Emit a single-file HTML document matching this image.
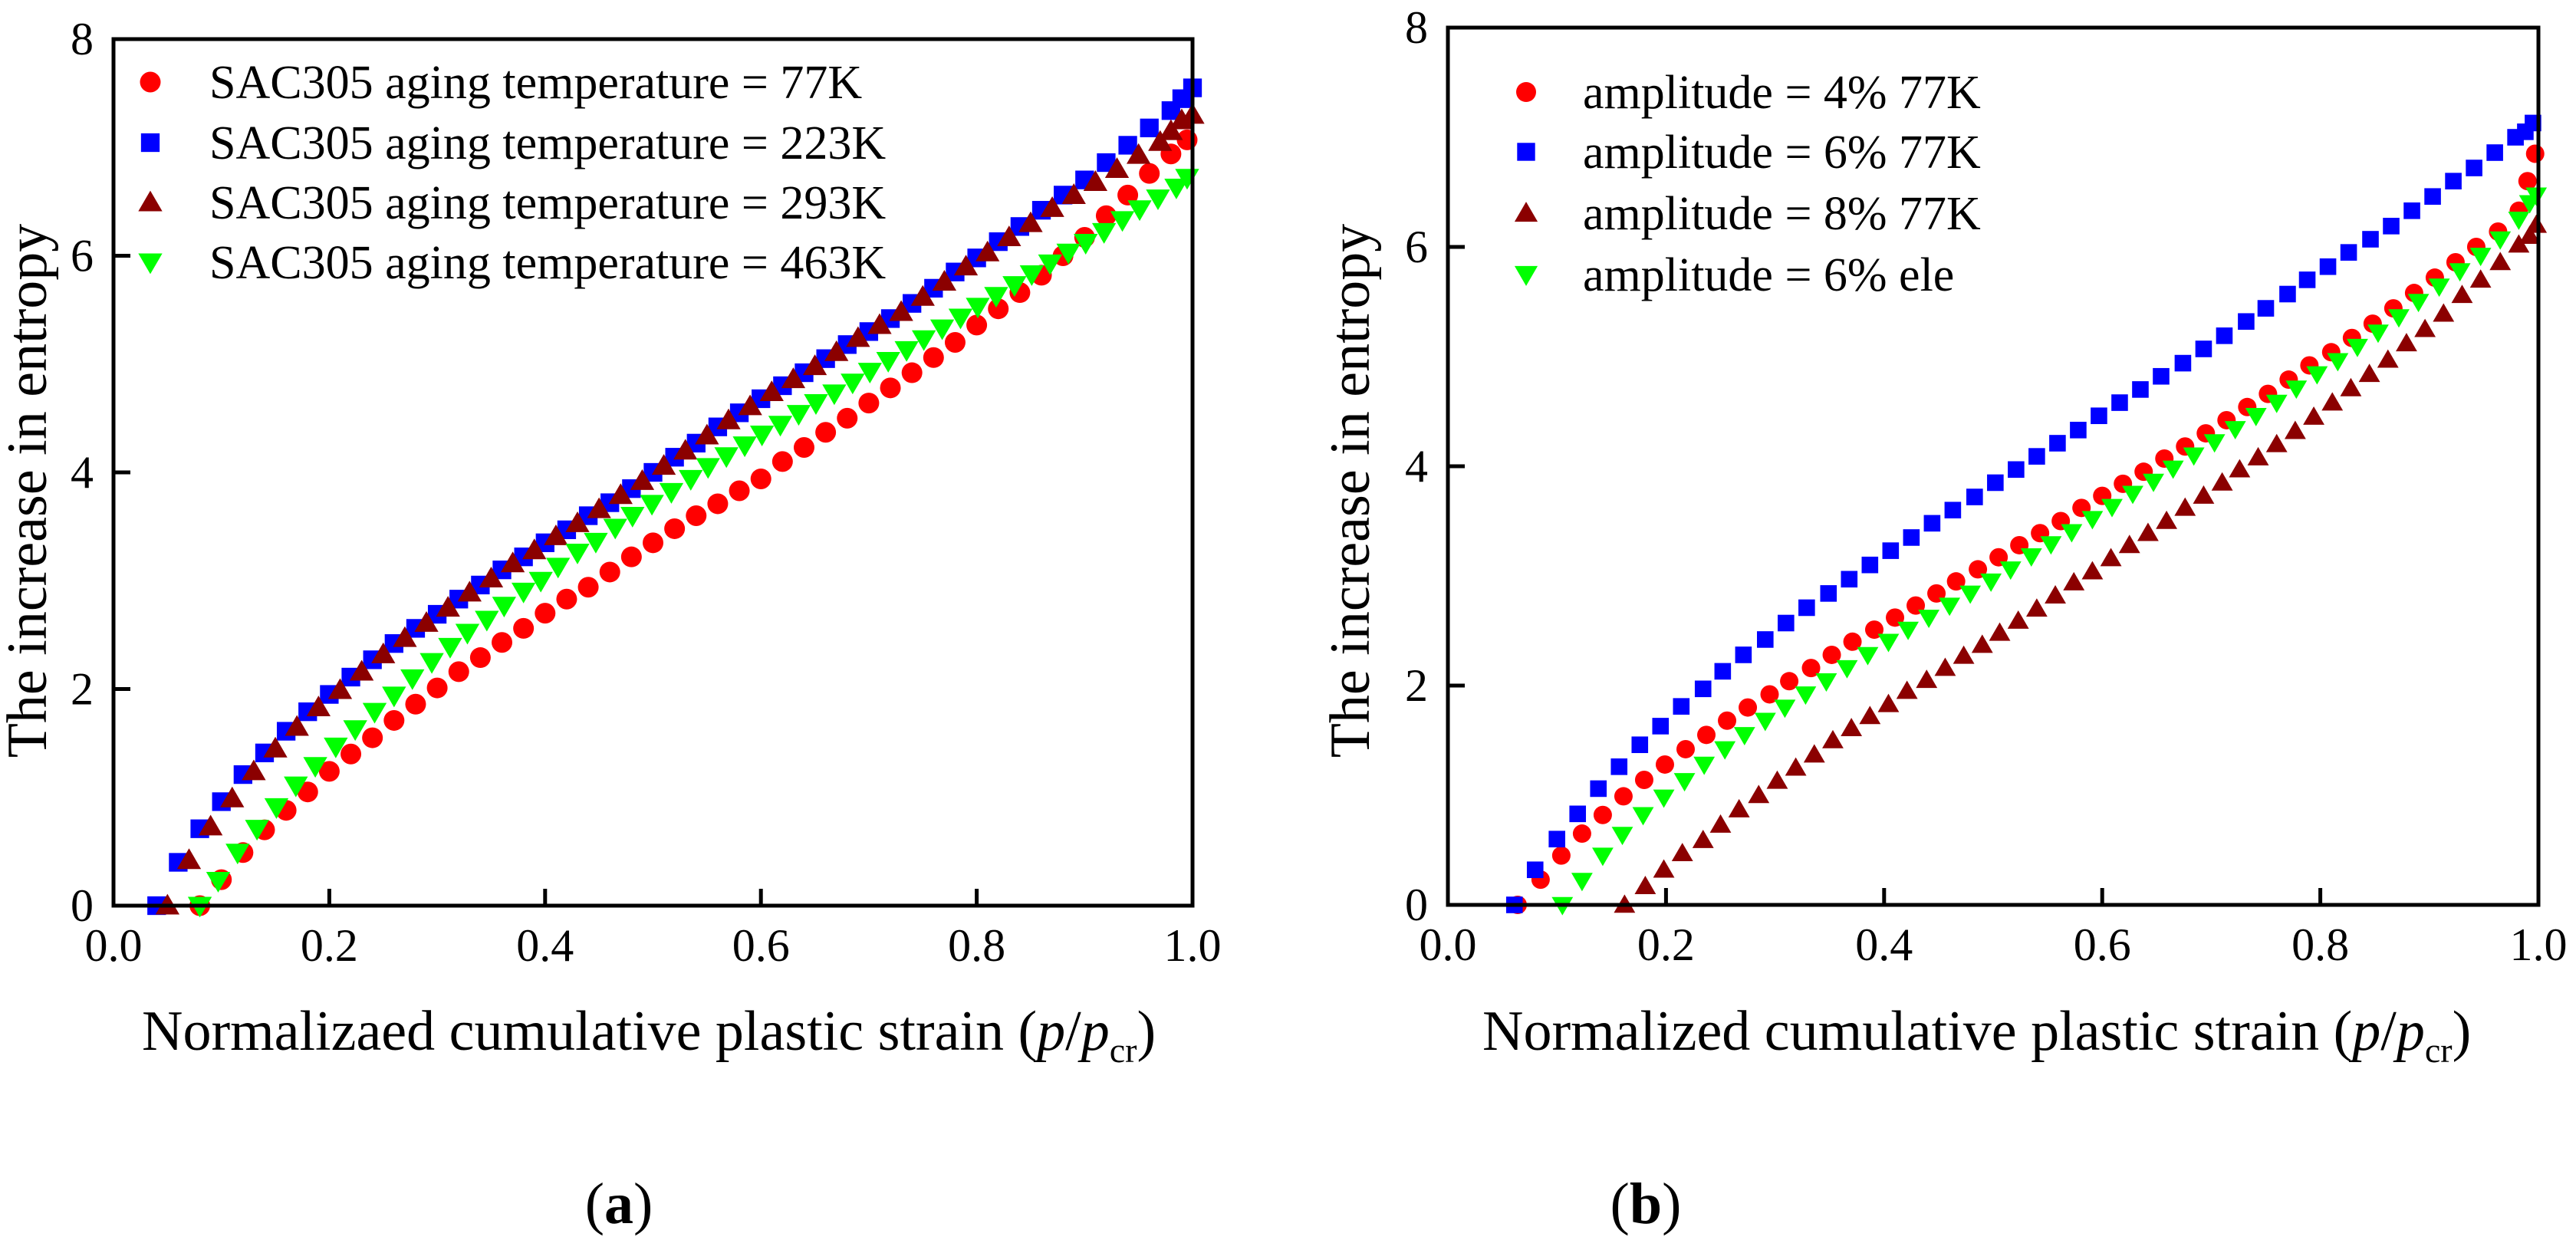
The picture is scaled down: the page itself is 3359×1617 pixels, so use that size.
<!DOCTYPE html>
<html><head><meta charset="utf-8"><style>
html,body{margin:0;padding:0;background:#fff;}
svg{display:block;font-family:"Liberation Serif",serif;}
svg text, svg tspan{font-family:"Liberation Serif",serif;}
</style></head><body>
<svg id="fig" width="3359" height="1617" viewBox="0 0 3359 1617" xmlns="http://www.w3.org/2000/svg" font-family="Liberation Serif, serif">
<rect width="3359" height="1617" fill="#fff"/>
</svg>
<script>
// ---------- Panel (a) data ----------
const aBlueX=[0.04,0.06,0.08,0.10,0.12,0.14,0.16,0.18,0.20,0.22,0.24,0.26,0.28,0.30,0.32,0.34,0.36,0.38,0.40,0.42,0.44,0.46,0.48,0.50,0.52,0.54,0.56,0.58,0.60,0.62,0.64,0.66,0.68,0.70,0.72,0.74,0.76,0.78,0.80,0.82,0.84,0.86,0.88,0.90,0.92,0.94,0.96,0.98,0.99,1.00];
const aBlueY=[0,0.4,0.71,0.96,1.21,1.41,1.61,1.79,1.95,2.11,2.27,2.42,2.56,2.69,2.83,2.96,3.1,3.22,3.35,3.47,3.6,3.72,3.85,4.0,4.14,4.27,4.42,4.55,4.68,4.8,4.92,5.05,5.18,5.3,5.42,5.56,5.7,5.85,5.98,6.13,6.27,6.42,6.56,6.7,6.86,7.02,7.18,7.34,7.45,7.55];
const aTriX=[0.05,0.07,0.09,0.11,0.13,0.15,0.17,0.19,0.21,0.23,0.25,0.27,0.29,0.31,0.33,0.35,0.37,0.39,0.41,0.43,0.45,0.47,0.49,0.51,0.53,0.55,0.57,0.59,0.61,0.63,0.65,0.67,0.69,0.71,0.73,0.75,0.77,0.79,0.81,0.83,0.85,0.87,0.89,0.91,0.93,0.95,0.97,0.98,0.99,1.0];
const aTriY=[0,0.42,0.73,0.99,1.24,1.45,1.65,1.83,1.99,2.16,2.32,2.47,2.61,2.75,2.89,3.02,3.16,3.28,3.41,3.53,3.66,3.79,3.92,4.06,4.2,4.34,4.48,4.61,4.74,4.86,4.98,5.11,5.24,5.36,5.48,5.62,5.76,5.9,6.03,6.17,6.3,6.44,6.56,6.68,6.8,6.93,7.05,7.15,7.25,7.3];
const aRedX=[0.08,0.10,0.12,0.14,0.16,0.18,0.20,0.22,0.24,0.26,0.28,0.30,0.32,0.34,0.36,0.38,0.40,0.42,0.44,0.46,0.48,0.50,0.52,0.54,0.56,0.58,0.60,0.62,0.64,0.66,0.68,0.70,0.72,0.74,0.76,0.78,0.80,0.82,0.84,0.86,0.88,0.90,0.92,0.94,0.96,0.98,0.995];
const aRedY=[0,0.24,0.49,0.7,0.88,1.05,1.24,1.4,1.55,1.71,1.86,2.01,2.16,2.29,2.43,2.56,2.7,2.83,2.94,3.08,3.22,3.35,3.48,3.6,3.71,3.83,3.94,4.1,4.23,4.37,4.5,4.64,4.78,4.92,5.06,5.2,5.36,5.51,5.66,5.82,6.0,6.17,6.37,6.56,6.76,6.94,7.07];
const aGreenX=[0.08,0.097,0.115,0.133,0.151,0.169,0.187,0.206,0.224,0.242,0.26,0.277,0.295,0.312,0.328,0.346,0.362,0.38,0.396,0.412,0.43,0.447,0.465,0.481,0.499,0.517,0.535,0.551,0.568,0.585,0.601,0.618,0.635,0.651,0.668,0.685,0.701,0.718,0.735,0.751,0.768,0.785,0.801,0.818,0.835,0.851,0.868,0.885,0.901,0.918,0.935,0.951,0.968,0.985,0.995];
const aGreenY=[0,0.23,0.49,0.71,0.91,1.11,1.29,1.47,1.63,1.79,1.94,2.1,2.25,2.39,2.52,2.64,2.77,2.9,3.0,3.13,3.26,3.36,3.49,3.6,3.71,3.82,3.94,4.05,4.15,4.25,4.35,4.44,4.54,4.64,4.73,4.83,4.93,5.03,5.13,5.23,5.33,5.43,5.53,5.63,5.73,5.83,5.93,6.03,6.12,6.22,6.33,6.43,6.53,6.63,6.72];
const aLegend=["SAC305 aging temperature = 77K","SAC305 aging temperature = 223K","SAC305 aging temperature = 293K","SAC305 aging temperature = 463K"];

// ---------- Panel (b) data ----------
const bBlueX=[0.061,0.08,0.1,0.119,0.138,0.157,0.176,0.195,0.214,0.234,0.252,0.271,0.291,0.31,0.329,0.349,0.368,0.387,0.406,0.425,0.444,0.463,0.483,0.502,0.521,0.54,0.559,0.578,0.597,0.616,0.635,0.654,0.674,0.693,0.712,0.732,0.75,0.77,0.788,0.807,0.826,0.846,0.865,0.884,0.903,0.922,0.941,0.96,0.979,0.988,0.995];
const bBlueY=[0,0.32,0.6,0.83,1.06,1.26,1.46,1.63,1.81,1.97,2.13,2.28,2.42,2.57,2.71,2.84,2.97,3.1,3.23,3.35,3.48,3.6,3.72,3.85,3.97,4.09,4.21,4.33,4.46,4.58,4.7,4.82,4.94,5.07,5.19,5.32,5.44,5.57,5.7,5.82,5.95,6.07,6.19,6.33,6.46,6.6,6.72,6.86,7.0,7.05,7.13];
const bRedX=[0.064,0.085,0.104,0.123,0.142,0.161,0.18,0.199,0.218,0.237,0.256,0.275,0.295,0.313,0.333,0.352,0.371,0.391,0.41,0.429,0.448,0.466,0.486,0.505,0.524,0.543,0.562,0.581,0.6,0.619,0.638,0.657,0.676,0.695,0.714,0.733,0.752,0.771,0.79,0.81,0.829,0.848,0.867,0.886,0.905,0.924,0.943,0.963,0.982,0.99,0.997];
const bRedY=[0,0.23,0.45,0.65,0.82,0.99,1.14,1.28,1.42,1.55,1.68,1.8,1.92,2.04,2.16,2.28,2.4,2.51,2.62,2.73,2.84,2.95,3.06,3.17,3.28,3.39,3.5,3.62,3.73,3.84,3.95,4.07,4.18,4.3,4.42,4.54,4.66,4.79,4.92,5.04,5.17,5.3,5.44,5.58,5.72,5.86,6.0,6.14,6.33,6.6,6.85];
const bTriX=[0.162,0.181,0.198,0.215,0.234,0.25,0.267,0.285,0.302,0.319,0.336,0.353,0.37,0.387,0.404,0.421,0.439,0.456,0.473,0.49,0.506,0.523,0.54,0.557,0.574,0.591,0.608,0.625,0.642,0.659,0.676,0.693,0.71,0.726,0.743,0.76,0.777,0.794,0.811,0.828,0.845,0.862,0.879,0.896,0.913,0.93,0.947,0.965,0.982,0.992,0.998];
const bTriY=[0,0.17,0.32,0.47,0.59,0.73,0.87,1.0,1.13,1.25,1.37,1.5,1.61,1.72,1.83,1.95,2.05,2.16,2.27,2.37,2.48,2.59,2.7,2.82,2.94,3.04,3.16,3.28,3.39,3.5,3.62,3.73,3.85,3.97,4.08,4.2,4.32,4.45,4.58,4.71,4.84,4.97,5.12,5.25,5.39,5.56,5.7,5.86,6.02,6.1,6.2];
const bGreenX=[0.105,0.123,0.142,0.16,0.179,0.198,0.217,0.235,0.254,0.272,0.291,0.309,0.328,0.347,0.366,0.385,0.404,0.422,0.441,0.46,0.479,0.498,0.516,0.535,0.553,0.572,0.591,0.609,0.628,0.647,0.665,0.684,0.703,0.722,0.741,0.76,0.778,0.797,0.816,0.834,0.853,0.872,0.89,0.909,0.928,0.947,0.965,0.982,0.992,0.998];
const bGreenY=[0,0.22,0.45,0.64,0.82,0.98,1.13,1.28,1.42,1.55,1.68,1.8,1.92,2.04,2.16,2.28,2.4,2.51,2.62,2.73,2.84,2.95,3.06,3.18,3.29,3.4,3.52,3.63,3.75,3.86,3.98,4.1,4.22,4.34,4.46,4.58,4.71,4.84,4.96,5.09,5.22,5.36,5.5,5.64,5.78,5.92,6.07,6.25,6.4,6.47];
const bLegend=["amplitude = 4% 77K","amplitude = 6% 77K","amplitude = 8% 77K","amplitude = 6% ele"];

const xTicks=[0,0.2,0.4,0.6,0.8,1.0];
const xTickLabels=["0.0","0.2","0.4","0.6","0.8","1.0"];
const yTicks=[0,2,4,6,8];
const yTickLabels=["0","2","4","6","8"];

const NS="http://www.w3.org/2000/svg";
const svg=document.getElementById('fig');
const FONT='"Liberation Serif", serif';
function mk(tag,attrs,parent){const e=document.createElementNS(NS,tag);for(const k in attrs)e.setAttribute(k,attrs[k]);if(tag==='text'||tag==='tspan'){e.setAttribute('font-family',FONT);e.style.fontFamily=FONT;}(parent||svg).appendChild(e);return e;}
function txt(parent,str,attrs){const t=mk('tspan',attrs||{},parent);t.textContent=str;return t;}

function marker(g,shape,cx,cy,s,color){
  let e;
  if(shape==='circle'){e=mk('circle',{cx:cx,cy:cy,r:s*0.5,fill:color},g);}
  else if(shape==='square'){e=mk('rect',{x:cx-s*0.45,y:cy-s*0.45,width:s*0.9,height:s*0.9,fill:color},g);}
  else if(shape==='up'){const h=s*0.95;e=mk('polygon',{points:`${cx},${cy-h*0.6} ${cx-s*0.58},${cy+h*0.45} ${cx+s*0.58},${cy+h*0.45}`,fill:color},g);}
  else {const h=s*0.95;e=mk('polygon',{points:`${cx},${cy+h*0.6} ${cx-s*0.58},${cy-h*0.45} ${cx+s*0.58},${cy-h*0.45}`,fill:color},g);}
  return e;
}

function panel(p){
  const g=mk('g',{});
  
  
  const sx=v=>p.x0+(p.x1-p.x0)*v;
  const sy=v=>p.y0-(p.y0-p.y8)*v/8;
  p.series.forEach(s=>{
    const sg=mk('g',{},g);
    
    
    const n=Math.min(s.x.length,s.y.length);
    for(let i=0;i<n;i++){
      const m=marker(sg,s.shape,sx(s.x[i]),sy(s.y[i]),p.ms,s.color);
      
      
    }
  });
  const fr=mk('rect',{x:p.x0,y:p.y8,width:p.x1-p.x0,height:p.y0-p.y8,fill:'none',stroke:'#000','stroke-width':5},g);
  
  
  xTicks.forEach((t,i)=>{
    const x=sx(t);
    if(i>0&&i<xTicks.length-1){const l=mk('line',{x1:x,x2:x,y1:p.y0,y2:p.y0-22,stroke:'#000','stroke-width':5},g);
      }
    const tx=mk('text',{x:x,y:p.y0+72,'font-size':60,'text-anchor':'middle',fill:'#000'},g);
    txt(tx,xTickLabels[i]);
    
    
  });
  yTicks.forEach((t,i)=>{
    const y=sy(t);
    if(i>0&&i<yTicks.length-1){const l=mk('line',{x1:p.x0,x2:p.x0+22,y1:y,y2:y,stroke:'#000','stroke-width':5},g);
      }
    const tx=mk('text',{x:p.x0-26,y:y+20,'font-size':60,'text-anchor':'end',fill:'#000'},g);
    txt(tx,yTickLabels[i]);
    
    
  });
  p.legend.forEach((label,i)=>{
    const s=p.series[p.legendOrder[i]];
    const y=p.legY[i];
    const m=marker(g,s.shape,p.legMx,y,p.lms,s.color);
    
    
    const t=mk('text',{x:p.legTx,y:y+21,'font-size':62,fill:'#000'},g);
    txt(t,label);
    
    
  });
  const xt=mk('text',{x:p.xtx,y:p.xty,'font-size':74,fill:'#000'},g);
  
  
  txt(xt,p.xtitle+' (');
  txt(xt,'p',{'font-style':'italic'});
  txt(xt,'/');
  txt(xt,'p',{'font-style':'italic'});
  txt(xt,'cr',{'font-size':46,dy:16});
  txt(xt,')',{dy:-16});
  const yt=mk('text',{x:0,y:0,'font-size':74,'text-anchor':'middle',fill:'#000',transform:`translate(${p.ytx},${p.yty}) rotate(-90)`},g);
  txt(yt,'The increase in entropy');
  
  
  const pl=mk('text',{x:p.lblx,y:1595,'font-size':76,'text-anchor':'middle',fill:'#000'},g);
  
  
  txt(pl,'(');
  txt(pl,p.letter,{'font-weight':'bold'});
  txt(pl,')');
}

panel({name:'panel-a',x0:148,x1:1555,y0:1181,y8:51,ms:27,lms:27,
  series:[
    {name:'series-77K',shape:'circle',color:'#ff0000',x:aRedX,y:aRedY},
    {name:'series-223K',shape:'square',color:'#0000ff',x:aBlueX,y:aBlueY},
    {name:'series-293K',shape:'up',color:'#8b0000',x:aTriX,y:aTriY},
    {name:'series-463K',shape:'down',color:'#00ff00',x:aGreenX,y:aGreenY}],
  legend:aLegend,legendOrder:[0,1,2,3],legY:[107,186,264,342],legMx:196,legTx:273,
  xtitle:'Normalizaed cumulative plastic strain',xtx:185,xty:1369,ytx:60,yty:640,lblx:807,letter:'a'});

panel({name:'panel-b',x0:1888,x1:3310,y0:1180,y8:36,ms:24,lms:26,
  series:[
    {name:'series-4pct-77K',shape:'circle',color:'#ff0000',x:bRedX,y:bRedY},
    {name:'series-6pct-77K',shape:'square',color:'#0000ff',x:bBlueX,y:bBlueY},
    {name:'series-8pct-77K',shape:'up',color:'#8b0000',x:bTriX,y:bTriY},
    {name:'series-6pct-ele',shape:'down',color:'#00ff00',x:bGreenX,y:bGreenY}],
  legend:bLegend,legendOrder:[0,1,2,3],legY:[120,198,278,358],legMx:1990,legTx:2064,
  xtitle:'Normalized cumulative plastic strain',xtx:1933,xty:1369,ytx:1785,yty:640,lblx:2146,letter:'b'});
</script>
</body></html>
